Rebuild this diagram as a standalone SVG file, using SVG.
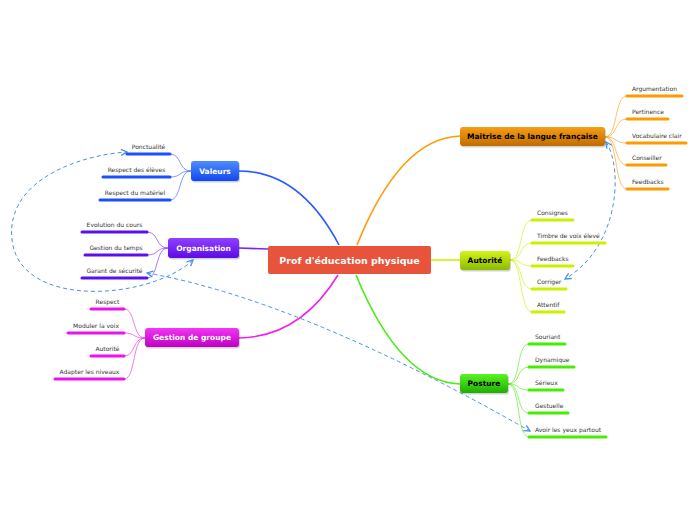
<svg xmlns="http://www.w3.org/2000/svg" width="696" height="520" viewBox="0 0 696 520">
<defs>
<linearGradient id="gBlue" x1="0" y1="0" x2="0" y2="1"><stop offset="0" stop-color="#4d8dff"/><stop offset="1" stop-color="#1148f0"/></linearGradient>
<linearGradient id="gPurple" x1="0" y1="0" x2="0" y2="1"><stop offset="0" stop-color="#9040ff"/><stop offset="1" stop-color="#5c0ce6"/></linearGradient>
<linearGradient id="gMagenta" x1="0" y1="0" x2="0" y2="1"><stop offset="0" stop-color="#f236f2"/><stop offset="1" stop-color="#bf00c4"/></linearGradient>
<linearGradient id="gOrange" x1="0" y1="0" x2="0" y2="1"><stop offset="0" stop-color="#f59e14"/><stop offset="1" stop-color="#c26c00"/></linearGradient>
<linearGradient id="gYellow" x1="0" y1="0" x2="0" y2="1"><stop offset="0" stop-color="#d4f418"/><stop offset="1" stop-color="#8cbc00"/></linearGradient>
<linearGradient id="gGreen" x1="0" y1="0" x2="0" y2="1"><stop offset="0" stop-color="#58f424"/><stop offset="1" stop-color="#1eae00"/></linearGradient>
<marker id="arr" viewBox="0 0 8 8" refX="7" refY="4" markerWidth="8" markerHeight="8" markerUnits="userSpaceOnUse" orient="auto-start-reverse">
<path d="M1,1 L7,4 L1,7" fill="none" stroke="#4a90e8" stroke-width="1.3"/>
</marker>
</defs>
<style>
.shadow{fill:#000;opacity:0.18}
.main{font-family:"DejaVu Sans",sans-serif;font-weight:bold;font-size:7.5px;text-anchor:middle}
.leaf{font-family:"DejaVu Sans",sans-serif;font-size:6px;fill:#333}
.lc{text-anchor:middle}
.bar{stroke-width:3;stroke-linecap:round;fill:none}
.conn{fill:none;stroke-width:1.6}
.sub{fill:none;stroke-width:1;stroke-opacity:0.6}
.rel{fill:none;stroke:#4a90e8;stroke-width:1;stroke-dasharray:4,3;marker-start:url(#arr);marker-end:url(#arr)}
</style>

<g id="connectors">
<path class="conn" stroke="#2a5cff" d="M339,245 Q300,171 239,171"/>
<path class="conn" stroke="#7a22ff" d="M268,249 L239,248"/>
<path class="conn" stroke="#ee22ee" d="M338,275 Q300,337 239,338"/>
<path class="conn" stroke="#ff9a0a" d="M357,245 Q400,138 460,136"/>
<path class="conn" stroke="#ccf000" d="M431,260 L460,260"/>
<path class="conn" stroke="#48ee10" d="M356,275 Q400,382 460,384"/>

<g stroke="#2a5cff">
<path class="sub" d="M191,171 C178,171 182,154 170,154"/>
<path class="sub" d="M191,171 C178,171 182,177 170,177"/>
<path class="sub" d="M191,171 C178,171 182,200 170,200"/>
</g>
<g stroke="#7a22ff">
<path class="sub" d="M168,248 C155,248 159,232 147,232"/>
<path class="sub" d="M168,248 C155,248 159,255 147,255"/>
<path class="sub" d="M168,248 C155,248 159,278 147,278"/>
</g>
<g stroke="#ee22ee">
<path class="sub" d="M145,338 C132,338 136,309 124,309"/>
<path class="sub" d="M145,338 C132,338 136,333 124,333"/>
<path class="sub" d="M145,338 C132,338 136,356 124,356"/>
<path class="sub" d="M145,338 C132,338 136,379 124,379"/>
</g>
<g stroke="#ff9a0a">
<path class="sub" d="M605,137 C618,137 614,96 627,96"/>
<path class="sub" d="M605,137 C618,137 614,119 627,119"/>
<path class="sub" d="M605,137 C618,137 614,143 627,143"/>
<path class="sub" d="M605,137 C618,137 614,165 627,165"/>
<path class="sub" d="M605,137 C618,137 614,189 627,189"/>
</g>
<g stroke="#ccf000">
<path class="sub" d="M510,260 C523,260 519,220 532,220"/>
<path class="sub" d="M510,260 C523,260 519,243 532,243"/>
<path class="sub" d="M510,260 C523,260 519,266 532,266"/>
<path class="sub" d="M510,260 C523,260 519,289 532,289"/>
<path class="sub" d="M510,260 C523,260 519,312 532,312"/>
</g>
<g stroke="#48ee10">
<path class="sub" d="M508,384 C521,384 516,344 529,344"/>
<path class="sub" d="M508,384 C521,384 516,367 529,367"/>
<path class="sub" d="M508,384 C521,384 516,390 529,390"/>
<path class="sub" d="M508,384 C521,384 516,413 529,413"/>
<path class="sub" d="M508,384 C521,384 516,437 529,437"/>
</g>

<path class="rel" d="M193,260 C150,300 20,310 12,240 C5,180 80,155 127,152"/>
<path class="rel" d="M147,273 Q300,300 530,431"/>
<path class="rel" d="M606,142 C622,165 622,245 565,279"/>
</g>

<g id="center">
<rect x="268" y="246" width="163" height="28" rx="2" fill="#e8533b"/>
<text x="349.5" y="263.5" font-family="DejaVu Sans,sans-serif" font-weight="bold" font-size="9.5" fill="#fff" text-anchor="middle">Prof d'éducation physique</text>
</g>

<g id="valeurs">
<rect class="shadow" x="192" y="162.5" width="48" height="20" rx="3"/>
<rect x="191" y="161" width="48" height="20" rx="3" fill="url(#gBlue)"/>
<text class="main" x="215" y="173.8" fill="#fff">Valeurs</text>
</g>
<g id="v-ponctualite"><path class="bar" stroke="#1a50ff" d="M127,154 L170,154"/><text class="leaf lc" x="148.5" y="149">Ponctualité</text></g>
<g id="v-eleves"><path class="bar" stroke="#1a50ff" d="M103,177 L170,177"/><text class="leaf lc" x="136.5" y="172">Respect des élèves</text></g>
<g id="v-materiel"><path class="bar" stroke="#1a50ff" d="M100,200 L170,200"/><text class="leaf lc" x="135" y="195">Respect du matériel</text></g>

<g id="organisation">
<rect class="shadow" x="169" y="239.5" width="71" height="20" rx="3"/>
<rect x="168" y="238" width="71" height="20" rx="3" fill="url(#gPurple)"/>
<text class="main" x="203.5" y="250.8" fill="#fff">Organisation</text>
</g>
<g id="o-evolution"><path class="bar" stroke="#5a10ee" d="M82,232 L147,232"/><text class="leaf lc" x="114.5" y="227">Evolution du cours</text></g>
<g id="o-temps"><path class="bar" stroke="#5a10ee" d="M85,255 L147,255"/><text class="leaf lc" x="116" y="250">Gestion du temps</text></g>
<g id="o-securite"><path class="bar" stroke="#5a10ee" d="M82,278 L147,278"/><text class="leaf lc" x="114.5" y="273">Garant de sécurité</text></g>

<g id="gestion">
<rect class="shadow" x="146" y="329.5" width="94" height="19" rx="3"/>
<rect x="145" y="328" width="94" height="19" rx="3" fill="url(#gMagenta)"/>
<text class="main" x="192" y="340.3" fill="#fff">Gestion de groupe</text>
</g>
<g id="g-respect"><path class="bar" stroke="#ee10ee" d="M91,309 L124,309"/><text class="leaf lc" x="107.5" y="304">Respect</text></g>
<g id="g-voix"><path class="bar" stroke="#ee10ee" d="M68,333 L124,333"/><text class="leaf lc" x="96" y="328">Moduler la voix</text></g>
<g id="g-autorite"><path class="bar" stroke="#ee10ee" d="M91,356 L124,356"/><text class="leaf lc" x="107.5" y="351">Autorité</text></g>
<g id="g-niveaux"><path class="bar" stroke="#ee10ee" d="M55,379 L124,379"/><text class="leaf lc" x="89.5" y="374">Adapter les niveaux</text></g>

<g id="maitrise">
<rect class="shadow" x="461" y="128.5" width="145" height="19" rx="3"/>
<rect x="460" y="127" width="145" height="19" rx="3" fill="url(#gOrange)"/>
<text class="main" x="532.5" y="139.3" fill="#000">Maitrise de la langue française</text>
</g>
<g id="m-argumentation"><path class="bar" stroke="#ff9a00" d="M627,96 L682,96"/><text class="leaf" x="632" y="91">Argumentation</text></g>
<g id="m-pertinence"><path class="bar" stroke="#ff9a00" d="M627,119 L668,119"/><text class="leaf" x="632" y="114">Pertinence</text></g>
<g id="m-vocabulaire"><path class="bar" stroke="#ff9a00" d="M627,143 L686,143"/><text class="leaf" x="632" y="138">Vocabulaire clair</text></g>
<g id="m-conseiller"><path class="bar" stroke="#ff9a00" d="M627,165 L666,165"/><text class="leaf" x="632" y="160">Conseiller</text></g>
<g id="m-feedbacks"><path class="bar" stroke="#ff9a00" d="M627,189 L668,189"/><text class="leaf" x="632" y="184">Feedbacks</text></g>

<g id="autorite">
<rect class="shadow" x="461" y="252.5" width="50" height="19" rx="3"/>
<rect x="460" y="251" width="50" height="19" rx="3" fill="url(#gYellow)"/>
<text class="main" x="485" y="263.3" fill="#000">Autorité</text>
</g>
<g id="a-consignes"><path class="bar" stroke="#ccf000" d="M532,220 L573,220"/><text class="leaf" x="537" y="215">Consignes</text></g>
<g id="a-timbre"><path class="bar" stroke="#ccf000" d="M532,243 L605,243"/><text class="leaf" x="537" y="238">Timbre de voix élevé</text></g>
<g id="a-feedbacks"><path class="bar" stroke="#ccf000" d="M532,266 L573,266"/><text class="leaf" x="537" y="261">Feedbacks</text></g>
<g id="a-corriger"><path class="bar" stroke="#ccf000" d="M532,289 L566,289"/><text class="leaf" x="537" y="284">Corriger</text></g>
<g id="a-attentif"><path class="bar" stroke="#ccf000" d="M532,312 L564,312"/><text class="leaf" x="537" y="307">Attentif</text></g>

<g id="posture">
<rect class="shadow" x="461" y="375.5" width="48" height="19" rx="3"/>
<rect x="460" y="374" width="48" height="19" rx="3" fill="url(#gGreen)"/>
<text class="main" x="484" y="386.3" fill="#000">Posture</text>
</g>
<g id="p-souriant"><path class="bar" stroke="#44ee00" d="M529,344 L565,344"/><text class="leaf" x="535" y="339">Souriant</text></g>
<g id="p-dynamique"><path class="bar" stroke="#44ee00" d="M529,367 L574,367"/><text class="leaf" x="535" y="362">Dynamique</text></g>
<g id="p-serieux"><path class="bar" stroke="#44ee00" d="M529,390 L563,390"/><text class="leaf" x="535" y="385">Sérieux</text></g>
<g id="p-gestuelle"><path class="bar" stroke="#44ee00" d="M529,413 L568,413"/><text class="leaf" x="535" y="408">Gestuelle</text></g>
<g id="p-yeux"><path class="bar" stroke="#44ee00" d="M529,437 L606,437"/><text class="leaf" x="535" y="432">Avoir les yeux partout</text></g>
</svg>
